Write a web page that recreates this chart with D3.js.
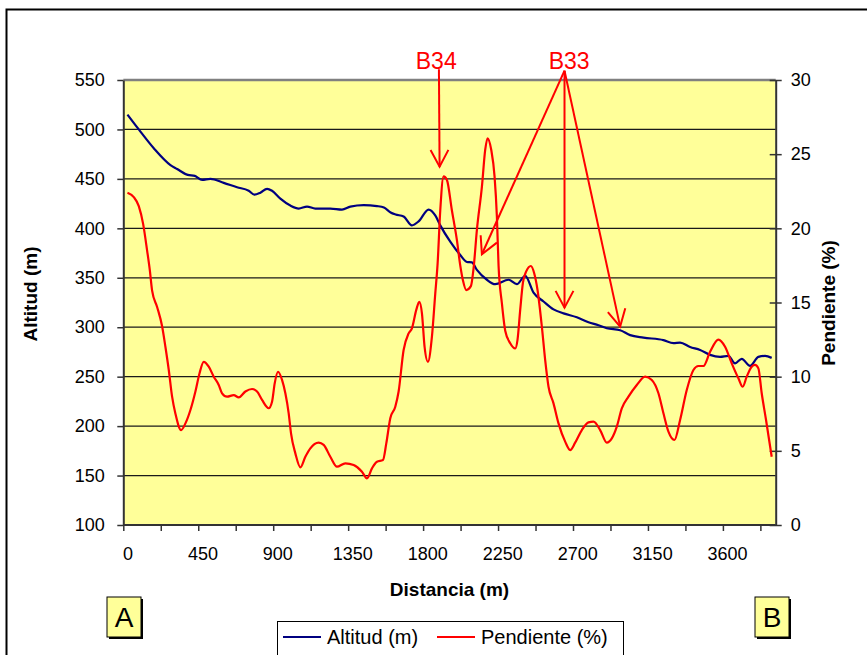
<!DOCTYPE html>
<html><head><meta charset="utf-8">
<script src="https://cdn.jsdelivr.net/npm/d3@7/dist/d3.min.js"></script>
<style>body{margin:0;background:#fff}svg{display:block;font-family:Arial,"Liberation Sans",sans-serif}</style>
</head><body><svg id="c" width="867" height="655"></svg>
<script>
// ---- data ----
const altDist = [0,68,158,258,298,362,404,448,498,578,658,728,762,798,838,868,918,978,1028,1078,1128,1218,1288,1338,1418,1498,1540,1580,1610,1658,1708,1748,1808,1848,1878,1938,1998,2038,2068,2098,2158,2208,2288,2338,2388,2438,2498,2558,2618,2698,2768,2828,2878,2958,3018,3098,3218,3278,3318,3378,3438,3498,3558,3608,3648,3688,3738,3788,3828,3868];
const altVal  = [515,500,481,464,460,454,453,449,450,446,441.5,438,434,436,440,438,430,423,420,422,420,420,419,422,423.5,422.5,421,416,414,412,403,407,419,413,403,386.5,373,366,365.5,358,348,343.5,348,343.5,352,335,326,318,314,310,305,302,299,297,292,289.5,287,284,284.5,280,277,272,270,271,263.5,268,261,270,271,269];
const pendDist = [0,38,68,94,118,134,148,178,208,228,248,268,288,322,348,378,408,432,458,488,518,548,568,598,638,668,708,748,778,808,848,868,884,904,928,948,968,982,1008,1038,1068,1098,1148,1178,1218,1258,1308,1358,1408,1438,1468,1498,1534,1554,1578,1608,1628,1658,1688,1708,1734,1752,1768,1784,1804,1828,1848,1862,1878,1898,1918,1948,1978,1998,2014,2034,2062,2078,2098,2128,2148,2162,2184,2204,2218,2228,2248,2268,2298,2328,2342,2358,2374,2394,2422,2442,2462,2488,2508,2528,2558,2588,2628,2658,2688,2728,2768,2798,2838,2878,2908,2938,2968,3008,3058,3108,3148,3188,3218,3248,3284,3318,3358,3398,3428,3458,3498,3548,3588,3628,3668,3694,3718,3748,3768,3788,3808,3834,3868];
const pendVal  = [22.4,22.1,21.5,20.3,18.5,17.2,15.8,14.7,13.4,12.0,10.45,8.65,7.5,6.4,6.85,7.75,9.0,10.2,11.0,10.67,10.0,9.44,8.88,8.65,8.76,8.6,9.0,9.17,9.0,8.43,7.87,8.31,9.55,10.33,9.78,8.88,7.53,6.18,4.83,3.89,4.6,5.17,5.55,5.4,4.6,3.93,4.16,4.04,3.59,3.15,3.82,4.27,4.38,5.5,7.2,7.97,9.0,11.8,12.92,13.26,14.5,15.05,14.27,12.0,11.0,12.7,15.6,17.6,21.2,23.5,23.26,21.2,19.2,17.5,16.5,15.84,16.1,17.3,19.9,22.8,25.3,26.07,25.3,23.5,20.8,17.5,14.95,13.1,12.25,11.9,12.5,14.5,16.3,17.1,17.46,16.97,15.84,13.37,11.12,9.32,8.2,6.85,5.62,5.05,5.55,6.4,6.92,6.97,6.4,5.55,5.84,6.63,7.86,8.65,9.44,10.0,9.78,8.88,7.53,6.29,5.73,7.08,9.1,10.45,10.72,10.72,11.68,12.5,12.02,10.9,9.89,9.32,10.0,10.67,10.79,10.56,8.88,7.08,4.6];
const altTicks = [100,150,200,250,300,350,400,450,500,550];
const pendTicks = [0,5,10,15,20,25,30];
const distLabels = [0,450,900,1350,1800,2250,2700,3150,3600];
const distMarks = [-25,200,425,650,875,1100,1325,1550,1775,2000,2225,2450,2675,2900,3125,3350,3575,3800];
const seriesNames = ["Altitud (m)", "Pendiente (%)"];
// annotation arrows, in data units (distance, altitude)
const annB34 = {label:"B34", text:[1854,561.5], from:[1870,560.8], tips:[[1874,462.3]]};
const annB33 = {label:"B33", text:[2652,561.5], from:[2624,559.4], tips:[[2128,373.8],[2624,319.8],[2958,300.6]]};

// ---- layout ----
const L = 123.3, R = 775.7, T = 80, B = 525;
const svg = d3.select("#c");
const x = d3.scaleLinear().domain([-25, 3892]).range([L, R]);
const yA = d3.scaleLinear().domain([100, 550]).range([B, T]);
const yP = d3.scaleLinear().domain([0, 30]).range([B, T]);
const FONT = "Arial, 'Liberation Sans', sans-serif";

// outer frame
svg.append("rect").attr("x",6.5).attr("y",9.5).attr("width",900).attr("height",700)
  .attr("fill","#fff").attr("stroke","#000").attr("stroke-width",2);

// plot area
svg.append("rect").attr("x",L).attr("y",T).attr("width",R-L).attr("height",B-T).attr("fill","#FFFF99");

// gridlines
svg.append("g").selectAll("line").data(altTicks.filter(v=>v>100 && v<550)).join("line")
  .attr("x1",L).attr("x2",R).attr("y1",d=>yA(d)).attr("y2",d=>yA(d))
  .attr("stroke","#1a1a1a").attr("stroke-width",1.2);
svg.append("line").attr("x1",L).attr("x2",R).attr("y1",T).attr("y2",T).attr("stroke","#808080").attr("stroke-width",2.5);

// left axis
const gl = svg.append("g").attr("transform",`translate(${L},0)`)
  .call(d3.axisLeft(yA).tickValues(altTicks).tickSize(6).tickPadding(12.5).tickSizeOuter(0));
gl.select(".domain").attr("stroke","#333").attr("stroke-width",2);
gl.selectAll(".tick line").attr("stroke","#333").attr("stroke-width",1.5);
gl.selectAll("text").attr("font-size",18).attr("fill","#000").attr("font-family",FONT);

// right axis
const gr = svg.append("g").attr("transform",`translate(${R},0)`)
  .call(d3.axisRight(yP).tickValues(pendTicks).tickSize(6).tickPadding(9).tickSizeOuter(0));
gr.select(".domain").attr("stroke","#333").attr("stroke-width",2);
gr.selectAll(".tick line").attr("x1",-6).attr("stroke","#333").attr("stroke-width",1.5);
gr.selectAll("text").attr("font-size",18).attr("fill","#000").attr("font-family",FONT);

// bottom axis: tick marks
const gb = svg.append("g").attr("transform",`translate(0,${B})`)
  .call(d3.axisBottom(x).tickValues(distMarks).tickSize(6).tickFormat("").tickSizeOuter(0));
gb.select(".domain").attr("stroke","#333").attr("stroke-width",2).attr("d",`M${L},0H${R}`);
gb.selectAll(".tick line").attr("stroke","#333").attr("stroke-width",1.5);
// bottom axis: labels
const gb2 = svg.append("g").attr("transform",`translate(0,${B})`)
  .call(d3.axisBottom(x).tickValues(distLabels).tickFormat(d3.format("d")).tickSize(0).tickPadding(22));
gb2.select(".domain").remove();
gb2.selectAll("text").attr("font-size",18).attr("fill","#000").attr("font-family",FONT);

// axis titles
svg.append("text").attr("x",(L+R)/2).attr("y",596).attr("text-anchor","middle")
  .attr("font-size",19).attr("font-weight","bold").text("Distancia (m)");
svg.append("text").attr("transform","translate(37,294) rotate(-90)").attr("text-anchor","middle")
  .attr("font-size",19).attr("font-weight","bold").text("Altitud (m)");
svg.append("text").attr("transform","translate(835,303) rotate(-90)").attr("text-anchor","middle")
  .attr("font-size",19).attr("font-weight","bold").text("Pendiente (%)");

// series
const altData = altDist.map((d,i)=>[d,altVal[i]]);
const pendData = pendDist.map((d,i)=>[d,pendVal[i]]);
svg.append("path").datum(altData).attr("fill","none").attr("stroke","#000080").attr("stroke-width",2.2)
  .attr("d",d3.line().x(d=>x(d[0])).y(d=>yA(d[1])).curve(d3.curveMonotoneX));
svg.append("path").datum(pendData).attr("fill","none").attr("stroke","#FF0000").attr("stroke-width",2.2)
  .attr("d",d3.line().x(d=>x(d[0])).y(d=>yP(d[1])).curve(d3.curveMonotoneX));

// annotations
function drawAnn(a){
  const g = svg.append("g").attr("stroke","#FF0000").attr("stroke-width",2).attr("fill","none");
  const fx = x(a.from[0]), fy = yA(a.from[1]);
  a.tips.forEach(t=>{
    const tx = x(t[0]), ty = yA(t[1]);
    g.append("line").attr("x1",fx).attr("y1",fy).attr("x2",tx).attr("y2",ty);
    const ang = Math.atan2(fy-ty, fx-tx), len = 19, sp = 28*Math.PI/180;
    const p1 = [tx+len*Math.cos(ang+sp), ty+len*Math.sin(ang+sp)];
    const p2 = [tx+len*Math.cos(ang-sp), ty+len*Math.sin(ang-sp)];
    g.append("path").attr("d",`M${p1[0]},${p1[1]}L${tx},${ty}L${p2[0]},${p2[1]}`);
  });
  svg.append("text").attr("x",x(a.text[0])).attr("y",yA(a.text[1])).attr("text-anchor","middle")
    .attr("fill","#FF0000").attr("font-size",23).text(a.label);
}
drawAnn(annB34); drawAnn(annB33);

// A / B boxes
function box(bx, label){
  svg.append("rect").attr("x",bx+2).attr("y",599).attr("width",34).attr("height",40).attr("fill","#000");
  svg.append("rect").attr("x",bx).attr("y",597).attr("width",34).attr("height",40).attr("fill","#FFFF99").attr("stroke","#000").attr("stroke-width",1);
  svg.append("text").attr("x",bx+17).attr("y",627).attr("text-anchor","middle").attr("font-size",28).text(label);
}
box(107,"A"); box(755,"B");

// legend
svg.append("rect").attr("x",277.5).attr("y",621.5).attr("width",346).attr("height",40).attr("fill","#fff").attr("stroke","#000").attr("stroke-width",1);
const lg = svg.append("g");
const legItems = [{name:seriesNames[0], color:"#000080", x0:283},{name:seriesNames[1], color:"#FF0000", x0:437}];
legItems.forEach(it=>{
  lg.append("line").attr("x1",it.x0).attr("x2",it.x0+38).attr("y1",637).attr("y2",637).attr("stroke",it.color).attr("stroke-width",2.2);
  lg.append("text").attr("x",it.x0+44).attr("y",644).attr("font-size",20).text(it.name);
});
</script></body></html>
